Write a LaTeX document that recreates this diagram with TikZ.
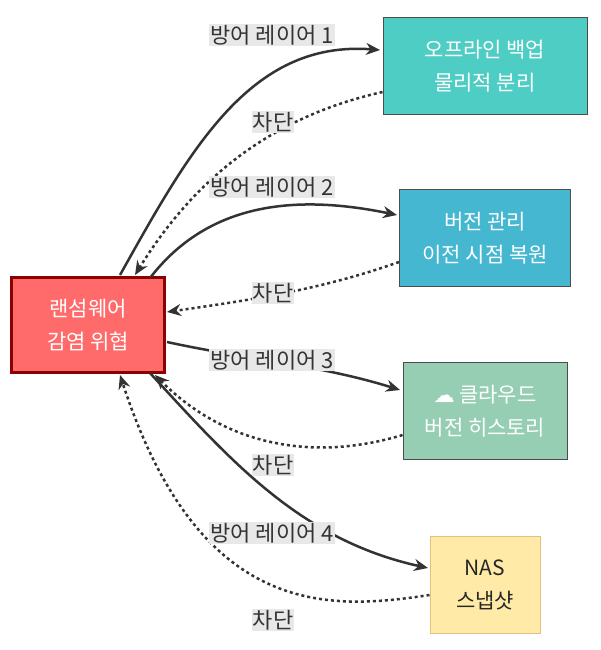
\documentclass[tikz,border=0pt]{standalone}
\usepackage{fontspec}
\setmainfont{Noto Sans CJK KR}
\newfontfamily\symfont{DejaVu Sans}
\usetikzlibrary{positioning,arrows.meta}
\definecolor{RansomRed}{HTML}{FF6B6B}
\definecolor{RansomLine}{HTML}{8B0000}
\definecolor{OfflineTeal}{HTML}{4ECDC4}
\definecolor{VersionBlue}{HTML}{45B7D1}
\definecolor{CloudGreen}{HTML}{96CEB4}
\definecolor{NasYellow}{HTML}{FFEAA7}
\definecolor{LabelGray}{HTML}{E8E8E8}
\tikzset{Box/.style={%
    shape=rectangle,%
    draw=black!70,%
    line width=1pt,%
    align=center,%
    font=\fontsize{21}{33}\selectfont,%
    text=white,%
    inner sep=0pt,%
    minimum height=97pt,%
}}
\tikzset{LayerEdge/.style={%
    -{Stealth[length=14pt,width=12pt]},%
    line width=2.5pt,%
    draw=black!80,%
}}
\tikzset{BlockEdge/.style={%
    -{Stealth[length=14pt,width=12pt]},%
    line width=2.5pt,%
    dash pattern=on 3pt off 3pt,%
    draw=black!80,%
}}
\tikzset{EdgeLabel/.style={%
    fill=LabelGray,%
    inner sep=1pt,%
    font=\fontsize{22}{25}\selectfont,%
    text=black!80,%
}}
\begin{document}
\begin{tikzpicture}[x=1pt,y=-1pt]
    \useasboundingbox (0,0) rectangle (600,650);
    \node[Box, fill=RansomRed, draw=RansomLine, line width=3.5pt, minimum width=153pt, minimum height=95pt] (ransom) at (88,325) {랜섬웨어\\감염 위협};
    \node[Box, fill=OfflineTeal, minimum width=204pt] (offline) at (485,66) {오프라인 백업\\물리적 분리};
    \node[Box, fill=VersionBlue, minimum width=171pt] (version) at (485,238) {버전 관리\\이전 시점 복원};
    \node[Box, fill=CloudGreen, minimum width=164pt] (cloud) at (485,411) {{\symfont ☁}\ 클라우드\\버전 히스토리};
    \node[Box, fill=NasYellow, draw=NasYellow!60!brown, text=black!85, minimum width=110pt] (nas) at (485,585) {NAS\\스냅샷};

    \draw[LayerEdge] (120,275) .. controls (190,150) and (250,40) .. (380,50);
    \draw[BlockEdge] (offline.west |- 0,92) .. controls (280,115) and (200,170) .. (135,275);
    \draw[LayerEdge] (150,278) .. controls (210,200) and (300,195) .. (397,215);
    \draw[BlockEdge] (version.west |- 0,262) .. controls (320,290) and (250,300) .. (167,312);
    \draw[LayerEdge] (167,342) .. controls (250,360) and (320,365) .. (400,390);
    \draw[BlockEdge] (cloud.west |- 0,435) .. controls (320,460) and (230,450) .. (155,375);
    \draw[LayerEdge] (150,373) .. controls (230,460) and (300,540) .. (428,568);
    \draw[BlockEdge] (nas.west |- 0,595) .. controls (330,610) and (200,620) .. (120,375);

    \node[EdgeLabel] (l1) at (272,35) {방어 레이어 1};
    \node[EdgeLabel] (b1) at (273,122) {차단};
    \node[EdgeLabel] (l2) at (272,187) {방어 레이어 2};
    \node[EdgeLabel] (b2) at (273,293) {차단};
    \node[EdgeLabel] (l3) at (272,360) {방어 레이어 3};
    \node[EdgeLabel] (b3) at (273,465) {차단};
    \node[EdgeLabel] (l4) at (272,533) {방어 레이어 4};
    \node[EdgeLabel] (b4) at (273,620) {차단};
\end{tikzpicture}
\end{document}
